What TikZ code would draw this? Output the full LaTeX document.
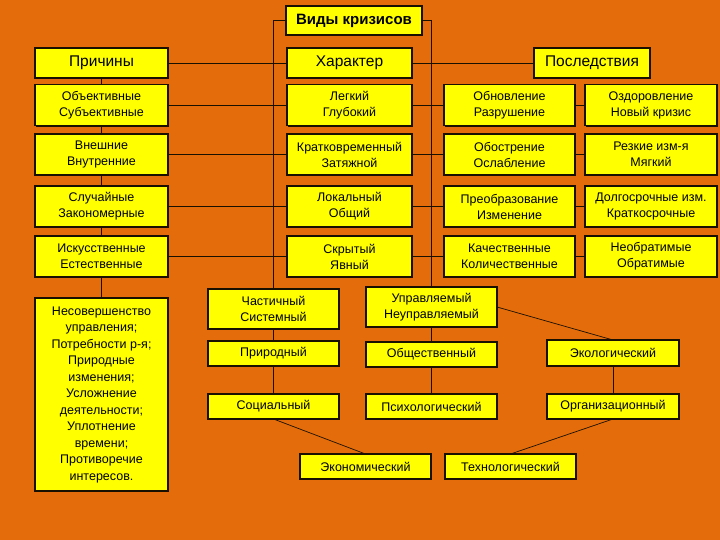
\documentclass[tikz,border=0pt]{standalone}
\usepackage{fontspec}
\setmainfont{Liberation Sans}
\usetikzlibrary{shadows}
\definecolor{bgorange}{HTML}{E46C0A}
\definecolor{boxyellow}{HTML}{FFFF00}
\definecolor{inkdark}{HTML}{1A1000}

\begin{document}
\begin{tikzpicture}[
  x=1pt, y=-1pt,
  box/.style={
    draw=inkdark, line width=1.3pt, fill=boxyellow, text=black,
    drop shadow={shadow xshift=1.3pt, shadow yshift=-1.3pt, fill=inkdark, opacity=1},
    align=center, inner sep=0pt, outer sep=0pt,
    minimum width=#1, font=\fontsize{12.5}{16}\selectfont
  },
  box/.default=131pt,
  hdr/.style={font=\fontsize{15.5}{17}\selectfont, minimum height=30pt},
  rowbox/.style={minimum height=41pt},
  lnk/.style={draw=inkdark, line width=0.7pt},
]

% Background
\fill[bgorange] (0,0) rectangle (720,540);

% =============================================
% Title and column headers
% =============================================
\node[box=136pt, minimum height=29pt, font=\fontsize{15}{17}\selectfont\bfseries]
  (title) at (354,20.5) {Виды кризисов};

\node[box=133pt, hdr] (prich) at (101.5,63) {Причины};
\node[box=125pt, hdr] (harak) at (349.5,63) {Характер};
\node[box=116pt, hdr] (posl)  at (592,63)   {Последствия};

% =============================================
% Rows: causes / character / consequences
% =============================================
\node[box=133pt, rowbox] (obj)   at (101.5,105)   {Объективные\\Субъективные};
\node[box=133pt, rowbox] (vnesh) at (101.5,154.5) {Внешние\\Внутренние};
\node[box=133pt, rowbox] (sluch) at (101.5,206.5) {Случайные\\Закономерные};
\node[box=133pt, rowbox] (isk)   at (101.5,256.5) {Искусственные\\Естественные};

\node[box=125pt, rowbox] (legk)  at (349.5,105)   {Легкий\\Глубокий};
\node[box=125pt, rowbox] (krat)  at (349.5,154.5) {Кратковременный\\Затяжной};
\node[box=125pt, rowbox] (lok)   at (349.5,206.5) {Локальный\\Общий};
\node[box=125pt, rowbox] (skr)   at (349.5,256.5) {Скрытый\\Явный};

\node[box, rowbox] (obnov) at (509.5,105)   {Обновление\\Разрушение};
\node[box, rowbox] (obostr) at (509.5,154.5) {Обострение\\Ослабление};
\node[box, rowbox] (preobr) at (509.5,206.5) {Преобразование\\Изменение};
\node[box, rowbox] (kach)  at (509.5,256.5) {Качественные\\Количественные};

\node[box=132pt, rowbox] (ozdor) at (651,105)   {Оздоровление\\Новый кризис};
\node[box=132pt, rowbox] (rezk)  at (651,154.5) {Резкие изм-я\\Мягкий};
\node[box=132pt, rowbox] (dolg)  at (651,206.5) {Долгосрочные изм.\\Краткосрочные};
\node[box=132pt, rowbox] (neobr) at (651,256.5) {Необратимые\\Обратимые};

\node[box=133pt, minimum height=193pt, font=\fontsize{12.5}{16.5}\selectfont]
  (nesov) at (101.5,394.5)
  {Несовершенство\\управления;\\Потребности р-я;\\Природные\\изменения;\\Усложнение\\деятельности;\\Уплотнение\\времени;\\Противоречие\\интересов.};

% =============================================
% Lower part: kinds of crises
% =============================================
\node[box, minimum height=40pt] (chast) at (273.5,309) {Частичный\\Системный};
\node[box, minimum height=40pt] (upr)   at (431.5,307) {Управляемый\\Неуправляемый};

\node[box, minimum height=25pt] (prir) at (273.5,353.5) {Природный};
\node[box, minimum height=25pt] (obsh) at (431.5,354.5) {Общественный};
\node[box=132pt, minimum height=26pt] (eco) at (613,353) {Экологический};

\node[box, minimum height=25pt] (soc)   at (273.5,406.5) {Социальный};
\node[box, minimum height=25pt] (psih)  at (431.5,406.5) {Психологический};
\node[box=132pt, minimum height=25pt] (org) at (613,406.5) {Организационный};

\node[box, minimum height=25pt] (econ) at (365.5,466.5) {Экономический};
\node[box, minimum height=25pt] (tehn) at (510.5,466.5) {Технологический};

% =============================================
% Connectors
% =============================================
\draw[lnk] (title.west) -| (chast.north);
\draw[lnk] (title.east) -| (upr.north);

\draw[lnk] (prich.east) -- (harak.west);
\draw[lnk] (harak.east) -- (posl.west);

\draw[lnk] (prich.south) -- (obj.north);
\draw[lnk] (obj.south) -- (vnesh.north);
\draw[lnk] (vnesh.south) -- (sluch.north);
\draw[lnk] (sluch.south) -- (isk.north);
\draw[lnk] (isk.south) -- (nesov.north);

\foreach \a/\b/\c/\d in {obj/legk/obnov/ozdor, vnesh/krat/obostr/rezk,
                         sluch/lok/preobr/dolg, isk/skr/kach/neobr} {
  \draw[lnk] (\a.east) -- (\b.west);
  \draw[lnk] (\b.east) -- (\c.west);
  \draw[lnk] (\c.east) -- (\d.west);
}

\draw[lnk] (chast.south) -- (prir.north);
\draw[lnk] (prir.south) -- (soc.north);
\draw[lnk] (upr.south) -- (obsh.north);
\draw[lnk] (obsh.south) -- (psih.north);
\draw[lnk] (upr.east) -- (eco.north);
\draw[lnk] (eco.south) -- (org.north);
\draw[lnk] (soc.south) -- (econ.north);
\draw[lnk] (org.south) -- (tehn.north);

\end{tikzpicture}
\end{document}
